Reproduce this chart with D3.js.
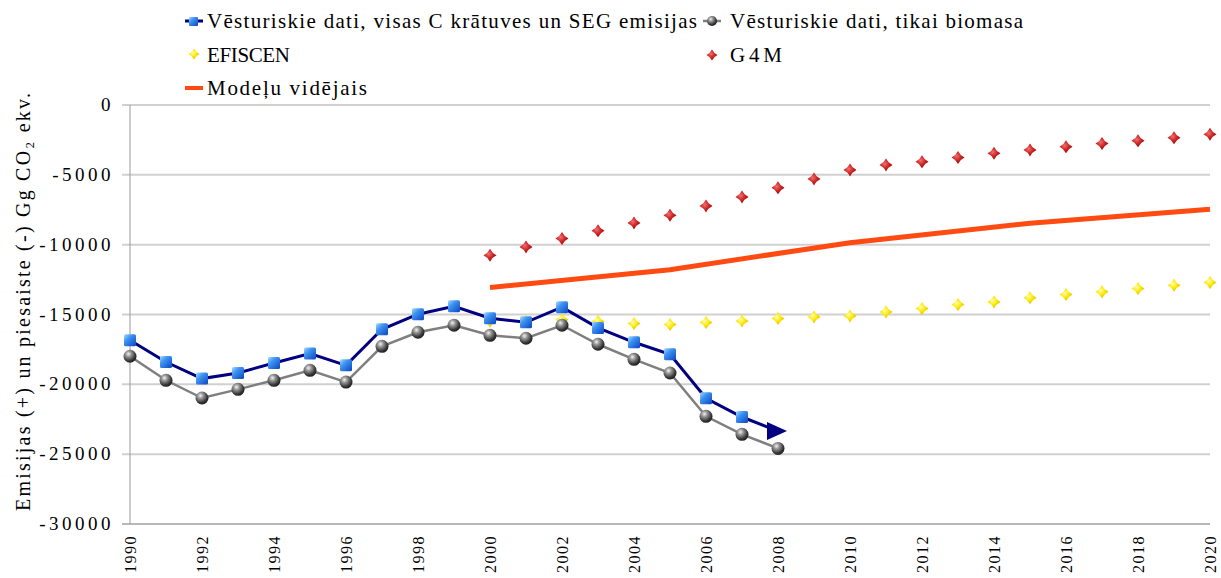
<!DOCTYPE html>
<html><head><meta charset="utf-8">
<script src="https://cdn.jsdelivr.net/npm/d3@7"></script>
<style>
html,body{margin:0;padding:0;background:#fff;}
svg{display:block;}
text{font-family:"Liberation Serif","Times New Roman",Times,serif;}
</style></head>
<body>
<svg id="chart" width="1221" height="578"></svg>
<script>
// ---------- DATA ----------
const histYears = [1990,1991,1992,1993,1994,1995,1996,1997,1998,1999,2000,2001,2002,2003,2004,2005,2006,2007,2008];
const histAll = [-16850,-18400,-19590,-19190,-18470,-17800,-18640,-16060,-14980,-14410,-15270,-15560,-14480,-15960,-16990,-17850,-21000,-22340,-23350];
const histBio = [-17990,-19710,-20980,-20360,-19710,-19000,-19840,-17280,-16270,-15770,-16490,-16700,-15770,-17130,-18210,-19190,-22290,-23580,-24590];
const projYears = [2000,2001,2002,2003,2004,2005,2006,2007,2008,2009,2010,2011,2012,2013,2014,2015,2016,2017,2018,2019,2020];
const efiscen = [-15480,-15480,-15380,-15480,-15650,-15720,-15580,-15460,-15290,-15180,-15100,-14820,-14570,-14290,-14100,-13800,-13570,-13380,-13140,-12900,-12710];
const g4m = [-10750,-10160,-9560,-9010,-8440,-7890,-7240,-6580,-5930,-5300,-4660,-4300,-4060,-3750,-3460,-3230,-2990,-2750,-2560,-2340,-2100];
const meanYears = [2000,2005,2010,2015,2020];
const meanVals = [-13070,-11790,-9860,-8460,-7460];
const xTickLabels = ["1990","1992","1994","1996","1998","2000","2002","2004","2006","2008","2010","2012","2014","2016","2018","2020"];
const yTickValues = [0,-5000,-10000,-15000,-20000,-25000,-30000];
const legendLabels = ["Vēsturiskie dati, visas C krātuves un SEG emisijas","Vēsturiskie dati, tikai biomasa","EFISCEN","G4M","Modeļu vidējais"];
const yTitle = "Emisijas (+) un piesaiste (-) Gg CO₂ ekv.";

// ---------- SETUP ----------
const svg = d3.select("#chart");
const L = 130, R = 1210, T = 105, B = 524;
const x = d3.scaleLinear().domain([1990, 2020]).range([L, R]);
const y = d3.scaleLinear().domain([-30000, 0]).range([B, T]);
const FF = '"Liberation Serif", "Times New Roman", serif';

const defs = svg.append("defs");
const gBlue = defs.append("linearGradient").attr("id","gBlue").attr("x1","0").attr("y1","0").attr("x2","1").attr("y2","1");
gBlue.append("stop").attr("offset","0%").attr("stop-color","#a8dcff");
gBlue.append("stop").attr("offset","35%").attr("stop-color","#3f94f2");
gBlue.append("stop").attr("offset","100%").attr("stop-color","#0a45c0");
const gSph = defs.append("radialGradient").attr("id","gSph").attr("cx","0.38").attr("cy","0.32").attr("r","0.7");
gSph.append("stop").attr("offset","0%").attr("stop-color","#f4f4f4");
gSph.append("stop").attr("offset","30%").attr("stop-color","#9a9a9a");
gSph.append("stop").attr("offset","75%").attr("stop-color","#3a3a3a");
gSph.append("stop").attr("offset","100%").attr("stop-color","#1a1a1a");
const gYel = defs.append("radialGradient").attr("id","gYel").attr("cx","0.4").attr("cy","0.4").attr("r","0.7");
gYel.append("stop").attr("offset","0%").attr("stop-color","#fffcc0");
gYel.append("stop").attr("offset","45%").attr("stop-color","#ffea00");
gYel.append("stop").attr("offset","100%").attr("stop-color","#d8b000");
const gRed = defs.append("radialGradient").attr("id","gRed").attr("cx","0.4").attr("cy","0.4").attr("r","0.7");
gRed.append("stop").attr("offset","0%").attr("stop-color","#f07070");
gRed.append("stop").attr("offset","45%").attr("stop-color","#d02828");
gRed.append("stop").attr("offset","100%").attr("stop-color","#8a0000");

const starPath = s => { const k = 0.32; return `M0,${-s} Q${s*k},${-s*k} ${s},0 Q${s*k},${s*k} 0,${s} Q${-s*k},${s*k} ${-s},0 Q${-s*k},${-s*k} 0,${-s}Z`; };

// ---------- GRID ----------
svg.append("g").selectAll("line").data(yTickValues.filter(v => v !== -30000)).join("line")
  .attr("x1", L - 8).attr("x2", R).attr("y1", d => y(d)).attr("y2", d => y(d))
  .attr("stroke", "#d0d0d0").attr("stroke-width", 2);
svg.append("line").attr("x1", L - 8).attr("x2", R).attr("y1", y(-30000)).attr("y2", y(-30000))
  .attr("stroke", "#b8b8b8").attr("stroke-width", 2);
svg.append("line").attr("x1", L).attr("x2", L).attr("y1", T).attr("y2", B)
  .attr("stroke", "#999").attr("stroke-width", 1);

// y tick labels
svg.append("g").selectAll("text").data(yTickValues).join("text")
  .attr("x", 114).attr("y", d => y(d) + 6)
  .attr("text-anchor", "end")
  .style("font-family", FF)
  .attr("font-size", 19).attr("letter-spacing", 3.5)
  .attr("fill", "#000")
  .text(d => String(d));

// x tick labels (rotated)
svg.append("g").selectAll("text").data(xTickLabels).join("text")
  .attr("transform", d => `translate(${x(+d) + 6},${535}) rotate(-90)`)
  .attr("text-anchor", "end")
  .style("font-family", FF)
  .attr("font-size", 16).attr("letter-spacing", 1.5)
  .attr("fill", "#000")
  .text(d => d);

// y axis title
svg.append("text")
  .attr("transform", `translate(30,302) rotate(-90)`)
  .attr("text-anchor", "middle")
  .style("font-family", FF)
  .attr("font-size", 20)
  .attr("textLength", 418).attr("lengthAdjust", "spacing")
  .attr("fill", "#000")
  .text(yTitle);

// ---------- SERIES ----------
const efData = projYears.map((yr, i) => [yr, efiscen[i]]);
const g4Data = projYears.map((yr, i) => [yr, g4m[i]]);
svg.append("g").selectAll("path").data(efData).join("path")
  .attr("transform", d => `translate(${x(d[0])},${y(d[1])})`)
  .attr("d", starPath(6.5)).attr("fill", "url(#gYel)");
svg.append("g").selectAll("path").data(g4Data).join("path")
  .attr("transform", d => `translate(${x(d[0])},${y(d[1])})`)
  .attr("d", starPath(6.5)).attr("fill", "url(#gRed)");

const line = d3.line().x(d => x(d[0])).y(d => y(d[1]));
svg.append("path").datum(meanYears.map((yr, i) => [yr, meanVals[i]]))
  .attr("d", line).attr("fill", "none").attr("stroke", "#ff4a12").attr("stroke-width", 5);

const bioData = histYears.map((yr, i) => [yr, histBio[i]]);
const allData = histYears.map((yr, i) => [yr, histAll[i]]);

svg.append("path").datum(bioData).attr("d", line).attr("fill", "none")
  .attr("stroke", "#7f7f7f").attr("stroke-width", 2.5);
svg.append("path").datum(allData).attr("d", line).attr("fill", "none")
  .attr("stroke", "#000080").attr("stroke-width", 3);

svg.append("g").selectAll("circle").data(bioData).join("circle")
  .attr("cx", d => x(d[0])).attr("cy", d => y(d[1])).attr("r", 6.5)
  .attr("fill", "url(#gSph)");

svg.append("g").selectAll("rect").data(allData.slice(0, -1)).join("rect")
  .attr("x", d => x(d[0]) - 6).attr("y", d => y(d[1]) - 6)
  .attr("width", 12).attr("height", 12).attr("rx", 1.5)
  .attr("fill", "url(#gBlue)");

const lastP = allData[allData.length - 1];
svg.append("path")
  .attr("transform", `translate(${x(lastP[0])},${y(lastP[1])})`)
  .attr("d", "M-11,-9 L9,0 L-11,9 Z").attr("fill", "#000080");

// ---------- LEGEND ----------
const leg = svg.append("g").style("font-family", FF);
leg.append("line").attr("x1", 185).attr("x2", 203).attr("y1", 21).attr("y2", 21).attr("stroke", "#000080").attr("stroke-width", 3);
leg.append("rect").attr("x", 189).attr("y", 17).attr("width", 9).attr("height", 9).attr("rx", 1).attr("fill", "url(#gBlue)");
leg.append("text").attr("x", 207).attr("y", 28).attr("font-size", 21)
  .attr("textLength", 490).attr("lengthAdjust", "spacing").attr("fill", "#000").text(legendLabels[0]);
leg.append("line").attr("x1", 703).attr("x2", 721).attr("y1", 21).attr("y2", 21).attr("stroke", "#7f7f7f").attr("stroke-width", 2.5);
leg.append("circle").attr("cx", 712).attr("cy", 21).attr("r", 5).attr("fill", "url(#gSph)");
leg.append("text").attr("x", 730).attr("y", 28).attr("font-size", 21)
  .attr("textLength", 293).attr("lengthAdjust", "spacing").attr("fill", "#000").text(legendLabels[1]);
leg.append("path").attr("transform", "translate(194,54)").attr("d", starPath(5.5)).attr("fill", "url(#gYel)");
leg.append("text").attr("x", 207).attr("y", 62).attr("font-size", 21)
  .attr("textLength", 83).attr("lengthAdjust", "spacing").attr("fill", "#000").text(legendLabels[2]);
leg.append("path").attr("transform", "translate(712,55)").attr("d", starPath(5.5)).attr("fill", "url(#gRed)");
leg.append("text").attr("x", 730).attr("y", 62).attr("font-size", 21)
  .attr("textLength", 52).attr("lengthAdjust", "spacing").attr("fill", "#000").text(legendLabels[3]);
leg.append("line").attr("x1", 185).attr("x2", 203).attr("y1", 88).attr("y2", 88).attr("stroke", "#ff4a12").attr("stroke-width", 4);
leg.append("text").attr("x", 207).attr("y", 95).attr("font-size", 21)
  .attr("textLength", 160).attr("lengthAdjust", "spacing").attr("fill", "#000").text(legendLabels[4]);
</script>
</body></html>
